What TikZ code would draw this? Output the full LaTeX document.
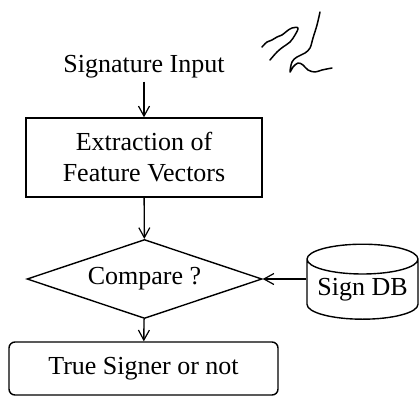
\documentclass[tikz,border=0pt]{standalone}
\usepackage{tikz}
\usetikzlibrary{positioning, shapes.geometric, arrows.meta}
\usepackage{fontspec}
\setmainfont{Liberation Serif}
\definecolor{inkblack}{HTML}{000000}

\begin{document}
\begin{tikzpicture}[x=1pt, y=-1pt, line width=1.4pt, draw=inkblack,
    font=\fontsize{26}{31}\selectfont,
    flow/.style={-{Straight Barb[length=10pt, width=11pt, line width=1.2pt]}},
    box/.style={draw, minimum width=236pt, minimum height=79pt, align=center, inner sep=0pt}]
    \useasboundingbox (0,0) rectangle (419,396);
    \node[anchor=base] (siginput) at (144,72) {Signature Input};
    \node[box] (extract) at (144,157.5) {Extraction of\\ Feature Vectors};
    \node[draw, diamond, aspect=2.97, minimum width=235pt, minimum height=79pt, inner sep=0pt]
      (compare) at (144.5,279) {Compare ?};
    \node[draw, cylinder, shape border rotate=90, aspect=0.33, minimum width=111pt,
      minimum height=75pt, inner sep=0pt] (signdb) at (362.5,289.5) {Sign DB};
    \node[draw, rounded corners=6pt, minimum width=269pt, minimum height=53pt, inner sep=0pt]
      (result) at (143.5,368.5) {True Signer or not};
    \draw[flow] (siginput.south) -- (extract.north);
    \draw[flow] (extract) -- (compare);
    \draw[flow] (signdb.west |- compare.east) -- (compare.east);
    \draw[flow] (compare) -- (result);
    % handwritten sample
    \draw[line width=1.5pt, line cap=round, line join=round] plot[smooth, tension=0.6] coordinates
      {(262,47) (267,42) (272,40) (277,37) (282,35) (287,31) (292,28) (298,28)
       (295,35) (290,42) (283,47) (277,52) (270,60)};
    \draw[line width=1.5pt, line cap=round, line join=round] plot[smooth, tension=0.6] coordinates
      {(320,12) (317,25) (313,38) (310,48) (305,53) (297,57) (292,62) (290,72)
       (293,67) (298,63) (303,65) (308,70) (315,72) (322,70) (332,68)};
  \end{tikzpicture}
\end{document}
